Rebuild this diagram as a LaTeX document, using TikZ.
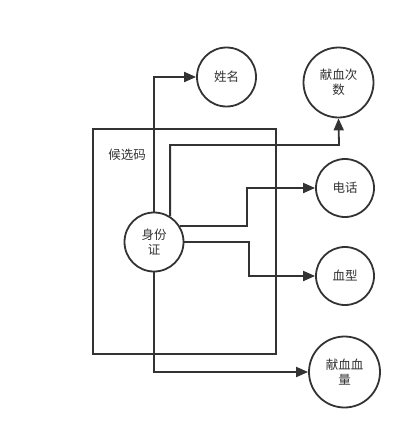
\documentclass[tikz,border=0pt]{standalone}
\usepackage{fontspec}
\setmainfont{Noto Sans CJK SC}
\usetikzlibrary{arrows.meta}
\definecolor{ink}{HTML}{333333}
\tikzset{
  ent/.style={circle, draw=ink, line width=1.8pt, fill=white, inner sep=0pt, text=ink, font=\fontsize{12.5}{15}\selectfont, align=center},
  arr/.style={draw=ink, line width=1.8pt, -{Triangle[length=12pt,width=10pt]}},
  boxst/.style={draw=ink, line width=1.8pt, inner sep=0pt},
}
\begin{document}
\begin{tikzpicture}[x=1pt,y=-1pt]
\useasboundingbox (0,0) rectangle (412,439);
\node[boxst, minimum width=183pt, minimum height=225pt] (box) at (184.5,241.5) {};
\node[text=ink, font=\fontsize{12.5}{15}\selectfont] (lbl) at (127,155) {候选码};
\node[ent, minimum size=59pt] (id) at (154,242) {身份\\证};
\node[ent, minimum size=59pt] (xm) at (226.5,77) {姓名};
\node[ent, minimum size=70pt] (xc) at (338.5,82.5) {献血次\\数};
\node[ent, minimum size=58pt] (dh) at (345,188) {电话};
\node[ent, minimum size=58pt] (xx) at (345,276) {血型};
\node[ent, minimum size=71pt] (xl) at (344.5,372) {献血血\\量};
\coordinate (k1) at (339,145);
\coordinate (k2) at (247,226);
\coordinate (k3) at (249,242);
\draw[arr] (id.north) |- (xm.west);
\draw[arr] (id.58) |- (k1) -- (xc.south);
\draw[arr] (id.32) -- (id.32 -| k2) |- (dh.west);
\draw[arr] (id.east) -- (id.east -| k3) |- (xx.west);
\draw[arr] (id.south) |- (xl.west);
\end{tikzpicture}
\end{document}
